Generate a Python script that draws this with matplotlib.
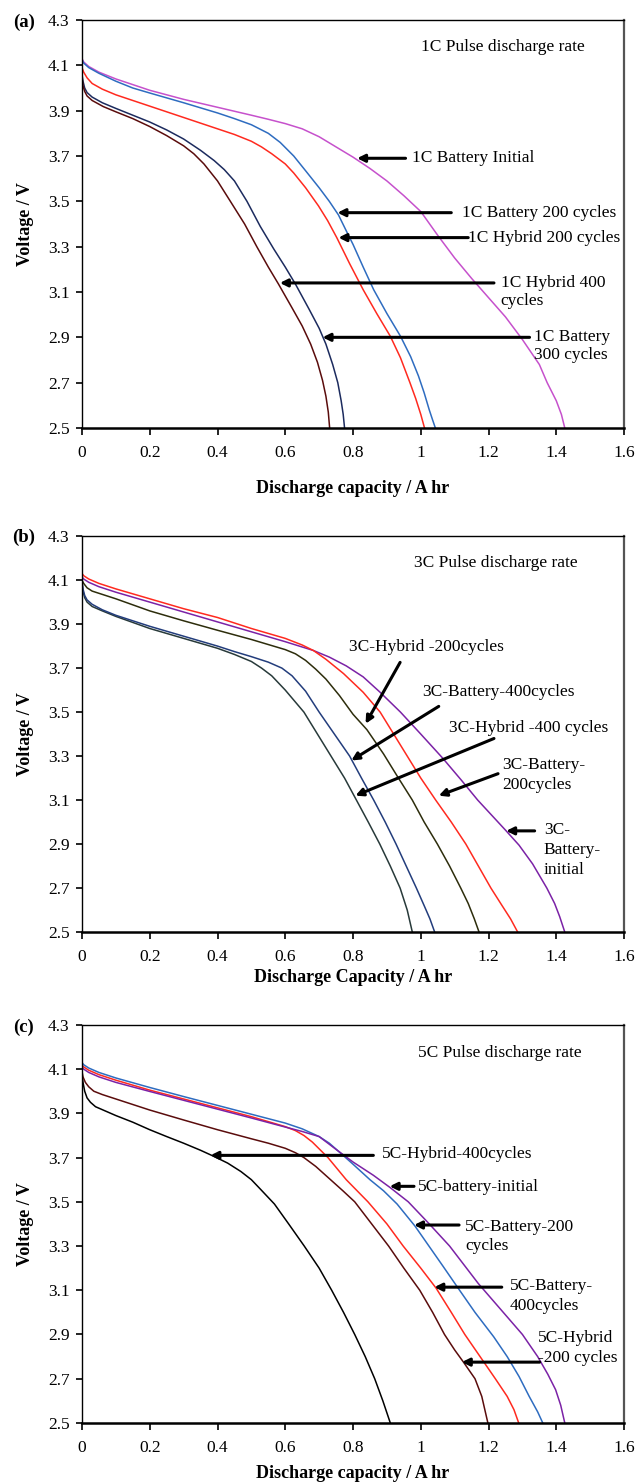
import numpy as np
import matplotlib.pyplot as plt

plt.rcParams['font.family'] = ['Liberation Serif', 'DejaVu Serif']

# ---------------- (a) 1C pulse ----------------
a_init_x = [0, 0.005, 0.02, 0.05, 0.1, 0.15, 0.2, 0.3, 0.4, 0.5, 0.55, 0.6, 0.65, 0.7, 0.75, 0.8, 0.85,
            0.9, 0.95, 1.0, 1.05, 1.1, 1.15, 1.2, 1.25, 1.3, 1.35, 1.373, 1.4, 1.415, 1.425]
a_init_y = [4.13, 4.115, 4.095, 4.07, 4.04, 4.015, 3.99, 3.95, 3.915, 3.88, 3.862, 3.843, 3.82, 3.785, 3.74,
            3.695, 3.645, 3.59, 3.525, 3.455, 3.35, 3.25, 3.16, 3.075, 2.99, 2.89, 2.78, 2.70, 2.62, 2.56, 2.5]
a_bat200_x = [0, 0.005, 0.02, 0.05, 0.1, 0.15, 0.2, 0.3, 0.4, 0.45, 0.5, 0.55, 0.585, 0.625, 0.66, 0.7,
              0.73, 0.757, 0.78, 0.8, 0.83, 0.861, 0.9, 0.94, 0.97, 0.993, 1.01, 1.025, 1.035, 1.043]
a_bat200_y = [4.125, 4.11, 4.09, 4.065, 4.03, 4.0, 3.978, 3.935, 3.89, 3.865, 3.838, 3.80, 3.76, 3.70, 3.635,
              3.56, 3.50, 3.44, 3.37, 3.31, 3.21, 3.11, 3.005, 2.905, 2.815, 2.73, 2.655, 2.58, 2.535, 2.5]
a_hyb200_x = [0, 0.005, 0.015, 0.03, 0.06, 0.1, 0.15, 0.2, 0.3, 0.4, 0.45, 0.5, 0.53, 0.56, 0.6, 0.625,
              0.66, 0.698, 0.725, 0.752, 0.79, 0.83, 0.87, 0.91, 0.94, 0.968, 0.985, 1.0, 1.011]
a_hyb200_y = [4.09, 4.07, 4.045, 4.02, 3.995, 3.97, 3.945, 3.92, 3.87, 3.82, 3.795, 3.765, 3.74, 3.71, 3.665,
              3.625, 3.56, 3.48, 3.415, 3.34, 3.225, 3.11, 3.005, 2.905, 2.81, 2.7, 2.63, 2.56, 2.5]
a_bat300_x = [0, 0.003, 0.008, 0.015, 0.03, 0.06, 0.1, 0.15, 0.2, 0.25, 0.3, 0.35, 0.39, 0.42, 0.45, 0.487,
              0.526, 0.566, 0.6, 0.63, 0.67, 0.70, 0.72, 0.74, 0.755, 0.765, 0.771, 0.775]
a_bat300_y = [4.06, 4.03, 4.0, 3.98, 3.96, 3.935, 3.91, 3.88, 3.85, 3.815, 3.775, 3.725, 3.68, 3.64, 3.59,
              3.50, 3.39, 3.29, 3.21, 3.135, 3.025, 2.94, 2.87, 2.78, 2.70, 2.62, 2.56, 2.5]
a_hyb400_x = [0, 0.003, 0.008, 0.015, 0.03, 0.063, 0.1, 0.15, 0.2, 0.25, 0.3, 0.33, 0.36, 0.4, 0.438, 0.48,
              0.516, 0.55, 0.58, 0.62, 0.65, 0.675, 0.695, 0.71, 0.72, 0.727, 0.731]
a_hyb400_y = [4.05, 4.01, 3.985, 3.965, 3.945, 3.918, 3.895, 3.865, 3.83, 3.79, 3.745, 3.71, 3.665, 3.59,
              3.50, 3.40, 3.30, 3.21, 3.135, 3.03, 2.95, 2.87, 2.79, 2.71, 2.64, 2.57, 2.5]

# ---------------- (b) 3C pulse ----------------
b_init_x = [0, 0.005, 0.02, 0.05, 0.1, 0.2, 0.3, 0.4, 0.5, 0.6, 0.683, 0.73, 0.78, 0.83, 0.88, 0.94, 1.0,
            1.065, 1.12, 1.168, 1.21, 1.252, 1.29, 1.33, 1.372, 1.395, 1.41, 1.425]
b_init_y = [4.115, 4.105, 4.09, 4.07, 4.045, 4.0, 3.955, 3.91, 3.865, 3.82, 3.78, 3.75, 3.71, 3.66, 3.59,
            3.50, 3.40, 3.29, 3.19, 3.10, 3.03, 2.96, 2.895, 2.81, 2.70, 2.63, 2.57, 2.5]
b_bat200_x = [0, 0.005, 0.02, 0.05, 0.1, 0.2, 0.3, 0.4, 0.5, 0.6, 0.65, 0.683, 0.72, 0.772, 0.83, 0.88,
              0.92, 0.96, 1.0, 1.044, 1.09, 1.133, 1.17, 1.207, 1.24, 1.265, 1.286]
b_bat200_y = [4.13, 4.12, 4.105, 4.085, 4.06, 4.015, 3.97, 3.93, 3.88, 3.835, 3.805, 3.78, 3.74, 3.675,
              3.59, 3.50, 3.40, 3.30, 3.20, 3.10, 3.0, 2.90, 2.80, 2.70, 2.62, 2.56, 2.5]
b_hyb200_x = [0, 0.005, 0.015, 0.03, 0.06, 0.1, 0.2, 0.3, 0.4, 0.5, 0.6, 0.63, 0.66, 0.69, 0.72, 0.76, 0.80,
              0.841, 0.89, 0.93, 0.975, 1.01, 1.049, 1.085, 1.118, 1.14, 1.158, 1.172]
b_hyb200_y = [4.10, 4.085, 4.065, 4.05, 4.035, 4.015, 3.96, 3.915, 3.872, 3.83, 3.784, 3.765, 3.735, 3.695,
              3.65, 3.575, 3.49, 3.42, 3.31, 3.21, 3.10, 3.0, 2.90, 2.80, 2.70, 2.63, 2.56, 2.5]
b_bat400_x = [0, 0.003, 0.008, 0.015, 0.03, 0.06, 0.1, 0.2, 0.3, 0.4, 0.45, 0.5, 0.55, 0.59, 0.62, 0.66,
              0.70, 0.745, 0.79, 0.825, 0.861, 0.895, 0.927, 0.96, 0.987, 1.01, 1.027, 1.041]
b_bat400_y = [4.10, 4.06, 4.03, 4.01, 3.99, 3.965, 3.94, 3.89, 3.845, 3.80, 3.775, 3.752, 3.727, 3.70,
              3.665, 3.595, 3.50, 3.40, 3.30, 3.20, 3.10, 3.0, 2.9, 2.79, 2.70, 2.62, 2.56, 2.5]
b_hyb400_x = [0, 0.003, 0.008, 0.015, 0.03, 0.06, 0.1, 0.2, 0.3, 0.4, 0.45, 0.5, 0.53, 0.56, 0.6, 0.655,
              0.695, 0.735, 0.775, 0.81, 0.845, 0.879, 0.91, 0.939, 0.96, 0.975]
b_hyb400_y = [4.09, 4.05, 4.02, 4.0, 3.98, 3.96, 3.935, 3.88, 3.835, 3.79, 3.762, 3.73, 3.70, 3.665, 3.60,
              3.50, 3.40, 3.30, 3.20, 3.10, 3.0, 2.90, 2.80, 2.70, 2.60, 2.5]

# ---------------- (c) 5C pulse ----------------
c_hyb400_x = [0, 0.003, 0.008, 0.015, 0.025, 0.04, 0.07, 0.1, 0.15, 0.2, 0.25, 0.3, 0.35, 0.39, 0.43, 0.469,
              0.5, 0.528, 0.568, 0.61, 0.656, 0.7, 0.737, 0.772, 0.805, 0.836, 0.864, 0.888, 0.91]
c_hyb400_y = [4.08, 4.04, 4.0, 3.97, 3.95, 3.93, 3.91, 3.89, 3.86, 3.826, 3.795, 3.765, 3.733, 3.705, 3.675,
              3.637, 3.60, 3.555, 3.49, 3.40, 3.30, 3.20, 3.10, 3.0, 2.9, 2.8, 2.7, 2.6, 2.5]
c_hyb200_x = [0, 0.003, 0.01, 0.02, 0.035, 0.06, 0.1, 0.15, 0.2, 0.3, 0.4, 0.5, 0.55, 0.6, 0.63, 0.655,
              0.69, 0.73, 0.77, 0.805, 0.855, 0.905, 0.95, 0.997, 1.035, 1.07, 1.1, 1.126, 1.16, 1.18, 1.198]
c_hyb200_y = [4.09, 4.065, 4.04, 4.02, 4.0, 3.985, 3.965, 3.94, 3.915, 3.87, 3.826, 3.785, 3.765, 3.742,
              3.722, 3.70, 3.66, 3.605, 3.55, 3.50, 3.40, 3.30, 3.20, 3.10, 3.0, 2.9, 2.83, 2.775, 2.70,
              2.62, 2.5]
c_bat400_x = [0, 0.005, 0.02, 0.05, 0.1, 0.2, 0.3, 0.4, 0.5, 0.6, 0.63, 0.655, 0.68, 0.726, 0.78, 0.844,
              0.9, 0.948, 1.0, 1.045, 1.09, 1.13, 1.175, 1.22, 1.255, 1.275, 1.289]
c_bat400_y = [4.12, 4.11, 4.095, 4.075, 4.05, 4.005, 3.965, 3.925, 3.885, 3.84, 3.822, 3.80, 3.77, 3.70,
              3.60, 3.50, 3.40, 3.30, 3.20, 3.11, 3.0, 2.9, 2.8, 2.7, 2.62, 2.56, 2.5]
c_bat200_x = [0, 0.005, 0.02, 0.05, 0.1, 0.2, 0.3, 0.4, 0.5, 0.6, 0.65, 0.7, 0.73, 0.756, 0.8, 0.85, 0.89,
              0.93, 0.983, 1.024, 1.065, 1.11, 1.16, 1.215, 1.255, 1.29, 1.32, 1.345, 1.36]
c_bat200_y = [4.13, 4.12, 4.105, 4.085, 4.06, 4.017, 3.976, 3.936, 3.896, 3.856, 3.83, 3.795, 3.765, 3.73,
              3.67, 3.60, 3.55, 3.49, 3.39, 3.30, 3.21, 3.11, 3.0, 2.89, 2.80, 2.71, 2.62, 2.55, 2.5]
c_init_x = [0, 0.005, 0.02, 0.05, 0.1, 0.2, 0.3, 0.4, 0.5, 0.6, 0.65, 0.7, 0.756, 0.8, 0.86, 0.909, 0.963,
            1.025, 1.085, 1.13, 1.17, 1.235, 1.30, 1.345, 1.375, 1.398, 1.413, 1.425]
c_init_y = [4.11, 4.10, 4.085, 4.065, 4.04, 3.999, 3.959, 3.919, 3.879, 3.838, 3.818, 3.795, 3.73, 3.68,
            3.62, 3.565, 3.50, 3.40, 3.30, 3.21, 3.13, 3.015, 2.9, 2.8, 2.72, 2.65, 2.58, 2.5]

x_ticks = [0, 0.2, 0.4, 0.6, 0.8, 1, 1.2, 1.4, 1.6]
x_ticklabels = ['0', '0.2', '0.4', '0.6', '0.8', '1', '1.2', '1.4', '1.6']
y_ticks = [2.5, 2.7, 2.9, 3.1, 3.3, 3.5, 3.7, 3.9, 4.1, 4.3]

MAGENTA = '#c651cc'
BLUE = '#2e6cc0'
RED = '#ff2a1f'
NAVY = '#1c2b5e'
DARKRED = '#5a0c0c'
PURPLE = '#7b22a6'
OLIVE = '#2d2d0c'
NAVY2 = '#233d7c'
SLATE = '#283a3a'

FS = 12.5


def style_axes(ax, xlabel, xlabel_pad):
    ax.set_xlim(0, 1.6)
    ax.set_ylim(2.5, 4.3)
    ax.set_xticks(x_ticks)
    ax.set_xticklabels(x_ticklabels)
    ax.set_yticks(y_ticks)
    ax.set_yticklabels([f'{v:.1f}' for v in y_ticks])
    ax.tick_params(axis='both', direction='out', labelsize=FS, length=4, width=1.2, color='black')
    ax.tick_params(axis='x', length=5, pad=7)
    ax.tick_params(axis='y', pad=5)
    for s in ['top', 'left']:
        ax.spines[s].set_linewidth(1.0)
    ax.spines['bottom'].set_linewidth(1.8)
    ax.spines['right'].set_linewidth(1.6)
    ax.spines['right'].set_color('#555555')
    ax.set_ylabel('Voltage / V', fontsize=FS + 0.5, fontweight='bold', labelpad=10)
    ax.set_xlabel(xlabel, fontsize=FS + 0.5, fontweight='bold', labelpad=xlabel_pad)


def arrow(ax, tip, tail):
    ax.annotate('', xy=tip, xytext=tail,
                arrowprops=dict(arrowstyle='-|>', color='black', lw=2.2, mutation_scale=11,
                                shrinkA=0, shrinkB=0))


fig = plt.figure(figsize=(6.37, 14.83), dpi=100)

# ---------- panel (a) ----------
ax = fig.add_axes([0.1287, 0.7114, 0.851, 0.2751])
ax.plot(a_init_x, a_init_y, color=MAGENTA, lw=1.1)
ax.plot(a_bat200_x, a_bat200_y, color=BLUE, lw=1.1)
ax.plot(a_hyb200_x, a_hyb200_y, color=RED, lw=1.1)
ax.plot(a_bat300_x, a_bat300_y, color=NAVY, lw=1.1)
ax.plot(a_hyb400_x, a_hyb400_y, color=DARKRED, lw=1.1)
style_axes(ax, 'Discharge capacity / A hr', 14)
ax.text(1.0, 4.18, '1C Pulse discharge rate', fontsize=FS, va='center')
ax.text(0.975, 3.69, '1C Battery Initial', fontsize=FS, va='center')
arrow(ax, (0.812, 3.69), (0.955, 3.69))
ax.text(1.121, 3.45, '1C Battery 200 cycles', fontsize=FS, va='center')
arrow(ax, (0.754, 3.45), (1.09, 3.45))
ax.text(1.14, 3.34, '1C Hybrid 200 cycles', fontsize=FS, va='center')
arrow(ax, (0.757, 3.34), (1.14, 3.34))
ax.text(1.236, 3.10, '1C Hybrid 400\ncycles', fontsize=FS, va='center', linespacing=1.1)
arrow(ax, (0.584, 3.14), (1.216, 3.14))
ax.text(1.333, 2.862, '1C Battery\n300 cycles', fontsize=FS, va='center', linespacing=1.1)
arrow(ax, (0.71, 2.9), (1.321, 2.9))
fig.text(24 / 637, 1 - 22 / 1483, '(a)', fontsize=FS + 1, fontweight='bold', ha='center', va='center')

# ---------- panel (b) ----------
ax = fig.add_axes([0.1287, 0.3715, 0.851, 0.2670])
ax.plot(b_hyb400_x, b_hyb400_y, color=SLATE, lw=1.1)
ax.plot(b_bat400_x, b_bat400_y, color=NAVY2, lw=1.1)
ax.plot(b_hyb200_x, b_hyb200_y, color=OLIVE, lw=1.1)
ax.plot(b_init_x, b_init_y, color=PURPLE, lw=1.1)
ax.plot(b_bat200_x, b_bat200_y, color=RED, lw=1.1)
style_axes(ax, 'Discharge Capacity / A hr', 3)
ax.text(0.981, 4.18, '3C Pulse discharge rate', fontsize=FS, va='center')
ax.text(0.787, 3.794, '3C-Hybrid -200cycles', fontsize=FS, va='center')
arrow(ax, (0.837, 3.447), (0.939, 3.726))
ax.text(1.005, 3.59, '3C-Battery-400cycles', fontsize=FS, va='center')
arrow(ax, (0.795, 3.28), (1.053, 3.526))
ax.text(1.083, 3.428, '3C-Hybrid -400 cycles', fontsize=FS, va='center')
arrow(ax, (0.807, 3.12), (1.216, 3.38))
ax.text(1.24, 3.213, '3C-Battery-\n200cycles', fontsize=FS, va='center', linespacing=1.35)
arrow(ax, (1.053, 3.12), (1.228, 3.22))
ax.text(1.363, 2.872, '3C-\nBattery-\ninitial', fontsize=FS, va='center', linespacing=1.35)
arrow(ax, (1.252, 2.96), (1.336, 2.96))
fig.text(24 / 637, 1 - 537 / 1483, '(b)', fontsize=FS + 1, fontweight='bold', ha='center', va='center')

# ---------- panel (c) ----------
ax = fig.add_axes([0.1287, 0.0405, 0.851, 0.2684])
ax.plot(c_hyb400_x, c_hyb400_y, color='black', lw=1.1)
ax.plot(c_hyb200_x, c_hyb200_y, color=DARKRED, lw=1.1)
ax.plot(c_bat400_x, c_bat400_y, color=RED, lw=1.1)
ax.plot(c_bat200_x, c_bat200_y, color=BLUE, lw=1.1)
ax.plot(c_init_x, c_init_y, color=PURPLE, lw=1.1)
style_axes(ax, 'Discharge capacity / A hr', 7)
ax.text(0.992, 4.175, '5C Pulse discharge rate', fontsize=FS, va='center')
ax.text(0.884, 3.715, '5C-Hybrid-400cycles', fontsize=FS, va='center')
arrow(ax, (0.379, 3.71), (0.86, 3.71))
ax.text(0.992, 3.565, '5C-battery-initial', fontsize=FS, va='center')
arrow(ax, (0.908, 3.57), (0.98, 3.57))
ax.text(1.131, 3.343, '5C-Battery-200\ncycles', fontsize=FS, va='center', linespacing=1.3)
arrow(ax, (0.98, 3.395), (1.113, 3.395))
ax.text(1.263, 3.075, '5C-Battery-\n400cycles', fontsize=FS, va='center', linespacing=1.3)
arrow(ax, (1.04, 3.114), (1.239, 3.114))
ax.text(1.345, 2.84, '5C-Hybrid\n-200 cycles', fontsize=FS, va='center', linespacing=1.3)
arrow(ax, (1.121, 2.775), (1.351, 2.775))
fig.text(24 / 637, 1 - 1027 / 1483, '(c)', fontsize=FS + 1, fontweight='bold', ha='center', va='center')

fig.savefig('out.png', dpi=100)
